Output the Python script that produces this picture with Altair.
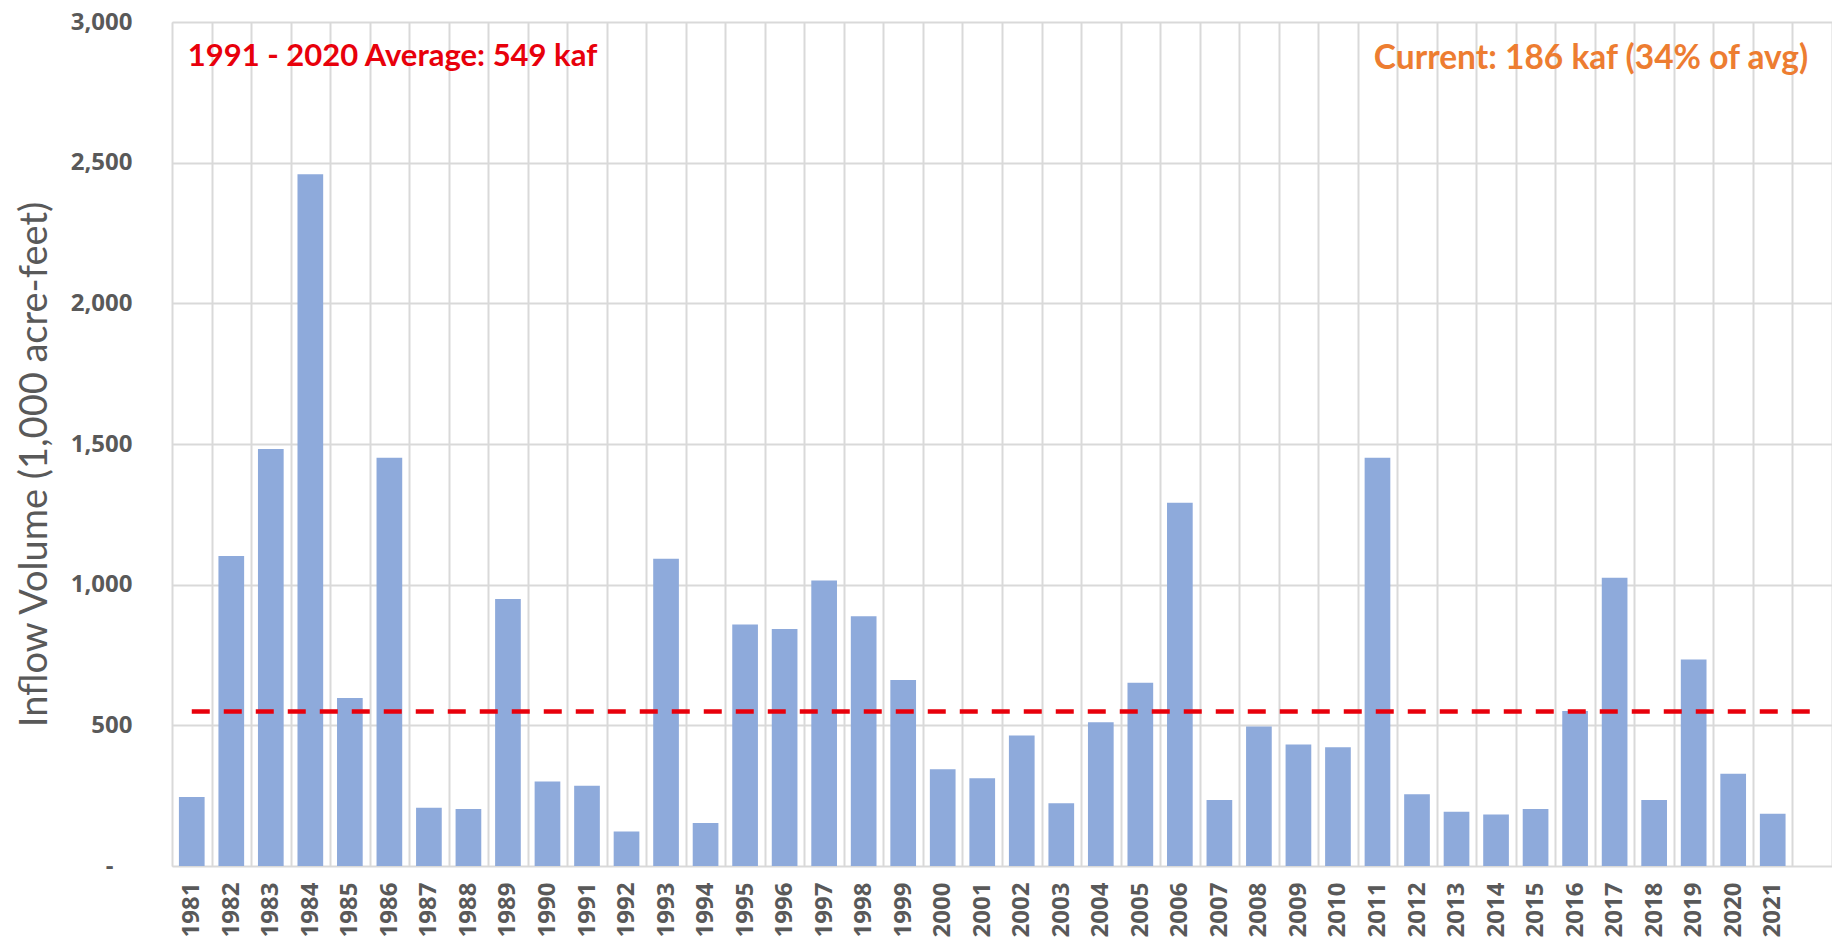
import altair as alt
import pandas as pd

years = [str(y) for y in range(1981, 2022)]
inflow = [245, 1102, 1482, 2459, 597, 1451, 207, 203, 949, 300,
          285, 123, 1092, 153, 858, 842, 1015, 888, 661, 344,
          312, 464, 223, 511, 651, 1291, 235, 496, 432, 422,
          1451, 255, 193, 183, 203, 551, 1025, 235, 734, 328,
          186]
slots = years + ["2022"]
avg_value = 549
avg_label = "1991 - 2020 Average: 549 kaf"
current_label = "Current: 186 kaf (34% of avg)"
y_title = "Inflow Volume (1,000 acre-feet)"
y_ticks = [0, 500, 1000, 1500, 2000, 2500, 3000]

bars_df = pd.DataFrame({"year": years, "inflow": inflow})
avg_df = pd.DataFrame({"start": [slots[0]], "end": [slots[-1]], "avg": [avg_value]})
red_df = pd.DataFrame({"year": [slots[0]], "v": [2876], "t": [avg_label]})
orange_df = pd.DataFrame({"year": [slots[-1]], "v": [2870], "t": [current_label]})

x_scale = alt.Scale(domain=slots, paddingInner=0, paddingOuter=0)
y_scale = alt.Scale(domain=[0, 3000], nice=False)

x_axis = alt.Axis(
    title=None, labelAngle=-90, labelAlign="right", labelBaseline="middle",
    labelFont="Open Sans", labelFontWeight="bold", labelFontSize=24,
    labelColor="#595959", labelPadding=16, ticks=False, domain=False,
    grid=True, gridColor="#d9d9d9", gridWidth=2, tickBand="extent",
    labelExpr="datum.value == '2022' ? '' : datum.value",
)
y_axis = alt.Axis(
    title=y_title, values=y_ticks,
    labelExpr="datum.value == 0 ? '-' : format(datum.value, ',')",
    labelFont="Open Sans", labelFontWeight="bold", labelFontSize=24,
    labelColor="#595959",
    labelPadding={"condition": {"test": "datum.value == 0", "value": 59}, "value": 40},
    ticks=False, domain=False,
    grid=True, gridColor="#d9d9d9", gridWidth=2,
    titleFont="Lato", titleFontWeight="normal", titleFontSize=38,
    titleColor="#595959", titleAngle=-90, titleX=-137, titleY=442,
    titleAlign="center", titleBaseline="middle",
)

bars = alt.Chart(bars_df).mark_bar(
    color="#8eaadb", width=alt.RelativeBandSize(0.65)
).encode(
    x=alt.X("year:N", scale=x_scale, axis=x_axis, sort=slots),
    y=alt.Y("inflow:Q", scale=y_scale, axis=y_axis),
)

avg_rule = alt.Chart(avg_df).mark_rule(
    color="#e8000b", strokeWidth=4.5, strokeDash=[18, 14]
).encode(
    x=alt.X("start:N", scale=x_scale, sort=slots),
    x2="end:N",
    y=alt.Y("avg:Q", scale=y_scale),
)

red_text = alt.Chart(red_df).mark_text(
    align="left", baseline="middle", dx=-4, font="Lato", fontWeight="bold",
    fontSize=31, color="#e8000b"
).encode(
    x=alt.X("year:N", scale=x_scale, sort=slots),
    y=alt.Y("v:Q", scale=y_scale),
    text="t:N",
)

orange_text = alt.Chart(orange_df).mark_text(
    align="right", baseline="middle", dx=-4, font="Lato", fontWeight="bold",
    fontSize=33.5, color="#ed7d31"
).encode(
    x=alt.X("year:N", scale=x_scale, sort=slots),
    y=alt.Y("v:Q", scale=y_scale),
    text="t:N",
)

chart = alt.layer(bars, avg_rule, red_text, orange_text).properties(
    width=1660, height=844,
    autosize=alt.AutoSizeParams(type="none"),
    padding={"left": 164, "top": 14, "right": 0, "bottom": 72},
).configure_view(
    fill="#f2f2f2", stroke="#d9d9d9", strokeWidth=2
).configure(background="white")

chart.save("out.html", embed_options={"renderer": "svg", "actions": False})
